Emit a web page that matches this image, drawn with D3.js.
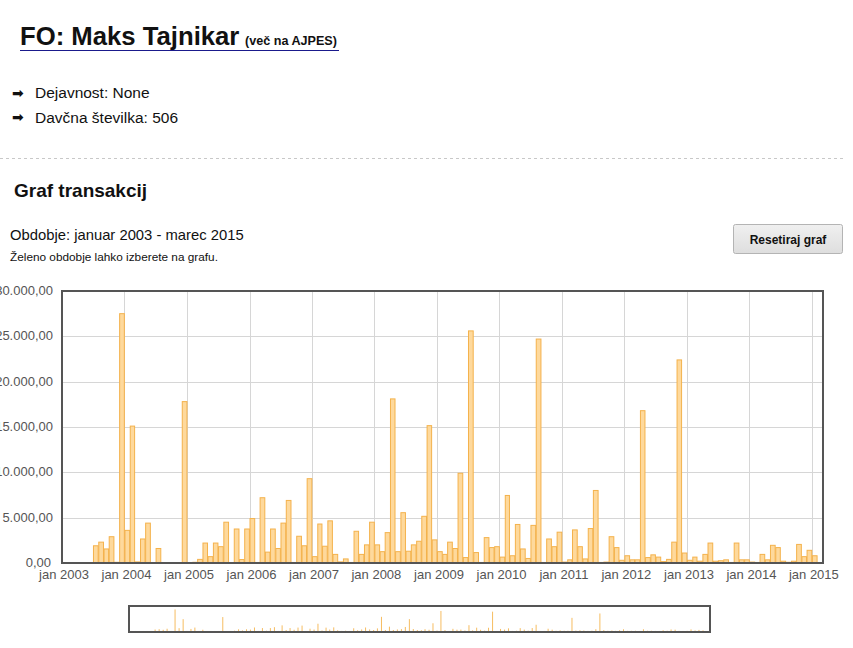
<!DOCTYPE html>
<html>
<head>
<meta charset="utf-8">
<script src="https://cdn.jsdelivr.net/npm/d3@7"></script>
<style>
  html, body { margin: 0; padding: 0; background: #fff; }
  svg { display: block; }
</style>
</head>
<body>
<svg id="chart" width="853" height="648"></svg>
<script>
// ---------- data ----------
const startMonth = "2003-01";
const values = [
  // 2003
  50, 50, 50, 50, 50, 50, 1900, 2300, 1550, 2900, 80, 27500,
  // 2004
  3600, 15100, 120, 2650, 4400, 50, 1600, 50, 50, 50, 50, 17800,
  // 2005
  50, 80, 400, 2200, 700, 2200, 1800, 4500, 50, 3750, 380, 3750,
  // 2006
  4900, 60, 7200, 1200, 3750, 1600, 4400, 6900, 60, 2950, 1900, 9300,
  // 2007
  700, 4300, 1850, 4650, 950, 120, 450, 60, 3500, 950, 2000, 4500,
  // 2008
  2000, 1250, 3350, 18100, 1250, 5550, 1300, 2000, 2400, 5150, 15150, 2550,
  // 2009
  1250, 950, 2300, 1600, 9900, 600, 25600, 1150, 60, 2800, 1700, 1800,
  // 2010
  650, 7450, 800, 4250, 1550, 500, 4150, 24700, 60, 2650, 1800, 3400,
  // 2011
  100, 350, 3650, 1800, 450, 3800, 8000, 60, 100, 2900, 1700, 300,
  // 2012
  800, 350, 350, 16800, 600, 900, 650, 150, 400, 2300, 22400, 1100,
  // 2013
  300, 650, 200, 950, 2200, 200, 250, 350, 60, 2200, 350, 350,
  // 2014
  100, 60, 950, 350, 1950, 1700, 200, 80, 200, 2050, 700, 1400,
  // 2015
  800
];
const yTickValues = [0, 5000, 10000, 15000, 20000, 25000, 30000];
const xTickYears = [2003, 2004, 2005, 2006, 2007, 2008, 2009, 2010, 2011, 2012, 2013, 2014, 2015];
const xTickPrefix = "jan";
const domainStart = "2003-01-01";
const domainEnd = "2015-03-07";

const titleText = "FO: Maks Tajnikar";
const titleLink = "(več na AJPES)";
const infoLines = ["Dejavnost: None", "Davčna številka: 506"];
const sectionTitle = "Graf transakcij";
const periodText = "Obdobje: januar 2003 - marec 2015";
const hintText = "Želeno obdobje lahko izberete na grafu.";
const buttonText = "Resetiraj graf";

// ---------- setup ----------
const FONT = "'Liberation Sans', Arial, Helvetica, sans-serif";
const svg = d3.select("#chart").style("font-family", FONT);
const parseMonth = d3.timeParse("%Y-%m");
const parseDay = d3.timeParse("%Y-%m-%d");
const t0 = parseMonth(startMonth);
const data = values.map((v, i) => ({ date: d3.timeMonth.offset(t0, i), value: v }));

const nf = d3.formatLocale({ decimal: ",", thousands: ".", grouping: [3], currency: ["", ""] }).format(",.2f");

// ---------- header ----------
svg.append("text").attr("x", 20).attr("y", 44.5)
  .attr("font-size", 25.7).attr("font-weight", "bold").attr("fill", "#111")
  .text(titleText);
svg.append("text").attr("x", 245).attr("y", 44.5)
  .attr("font-size", 12.6).attr("font-weight", "bold").attr("fill", "#111")
  .text(titleLink);
svg.append("line").attr("x1", 20).attr("x2", 339).attr("y1", 50.5).attr("y2", 50.5)
  .attr("stroke", "#1a1a8c").attr("stroke-width", 1);

infoLines.forEach((t, i) => {
  const y = 98 + i * 24.5;
  svg.append("text").attr("x", 12).attr("y", y - 0.5)
    .attr("font-family", "'DejaVu Sans', sans-serif")
    .attr("font-size", 14).attr("font-weight", "bold").attr("fill", "#111").text("➡");
  svg.append("text").attr("x", 35).attr("y", y)
    .attr("font-size", 15.5).attr("fill", "#111").text(t);
});

svg.append("line").attr("x1", 0).attr("x2", 845).attr("y1", 158.5).attr("y2", 158.5)
  .attr("stroke", "#c8c8c8").attr("stroke-width", 1).attr("stroke-dasharray", "3,3");

svg.append("text").attr("x", 14).attr("y", 197)
  .attr("font-size", 19).attr("font-weight", "bold").attr("fill", "#111")
  .text(sectionTitle);

svg.append("text").attr("x", 10).attr("y", 239.5)
  .attr("font-size", 14.8).attr("fill", "#111").text(periodText);
svg.append("text").attr("x", 10).attr("y", 261)
  .attr("font-size", 11.8).attr("fill", "#111").text(hintText);

// button
const grad = svg.append("defs").append("linearGradient").attr("id", "btng")
  .attr("x1", 0).attr("x2", 0).attr("y1", 0).attr("y2", 1);
grad.append("stop").attr("offset", "0%").attr("stop-color", "#f0f0f0");
grad.append("stop").attr("offset", "100%").attr("stop-color", "#dedede");
svg.append("rect").attr("x", 733.5).attr("y", 224.5).attr("width", 109).attr("height", 29)
  .attr("rx", 2).attr("fill", "url(#btng)").attr("stroke", "#b4b4b4");
svg.append("text").attr("x", 788).attr("y", 243.5).attr("text-anchor", "middle")
  .attr("font-size", 12).attr("font-weight", "bold").attr("fill", "#111").text(buttonText);

// ---------- main chart ----------
const plot = { left: 62, right: 823, top: 291, bottom: 563 };
const x = d3.scaleTime().domain([parseDay(domainStart), parseDay(domainEnd)]).range([plot.left, plot.right]);
const y = d3.scaleLinear().domain([0, 30000]).range([plot.bottom, plot.top]);

const g = svg.append("g");
// grid
g.selectAll("line.hgrid").data(yTickValues).enter().append("line")
  .attr("x1", plot.left).attr("x2", plot.right)
  .attr("y1", d => Math.round(y(d)) + 0.5).attr("y2", d => Math.round(y(d)) + 0.5)
  .attr("stroke", "#d6d6d6").attr("stroke-width", 1);
const xTickDates = xTickYears.map(yr => new Date(yr, 0, 1));
g.selectAll("line.vgrid").data(xTickDates).enter().append("line")
  .attr("x1", d => Math.round(x(d)) + 0.5).attr("x2", d => Math.round(x(d)) + 0.5)
  .attr("y1", plot.top).attr("y2", plot.bottom)
  .attr("stroke", "#d6d6d6").attr("stroke-width", 1);

// bars
g.selectAll("rect.bar").data(data).enter().append("rect")
  .attr("x", d => x(d.date) + 0.5)
  .attr("y", d => y(d.value))
  .attr("width", d => x(d3.timeMonth.offset(d.date, 1)) - x(d.date) - 0.6)
  .attr("height", d => plot.bottom - y(d.value))
  .attr("fill", "#fed99c").attr("stroke", "#f4b24c").attr("stroke-width", 1);

// frame
g.append("rect").attr("x", plot.left).attr("y", plot.top)
  .attr("width", plot.right - plot.left).attr("height", plot.bottom - plot.top)
  .attr("fill", "none").attr("stroke", "#555").attr("stroke-width", 2);

// y labels
g.selectAll("text.ylab").data(yTickValues).enter().append("text")
  .attr("x", d => d === 0 ? 51 : 53).attr("y", d => y(d) + 4).attr("text-anchor", "end")
  .attr("font-size", 13).attr("fill", "#555").text(d => nf(d));

// x labels
g.selectAll("text.xlab").data(xTickDates).enter().append("text")
  .attr("x", d => x(d) + 2).attr("y", 579).attr("text-anchor", "middle")
  .attr("font-size", 13).attr("fill", "#555")
  .text(d => xTickPrefix + " " + d.getFullYear());

// ---------- overview chart ----------
const ov = { left: 130, right: 710, top: 607, bottom: 632 };
const x2 = d3.scaleTime().domain([parseDay(domainStart), parseDay(domainEnd)]).range([ov.left, ov.right]);
const y2 = d3.scaleLinear().domain([0, 30000]).range([ov.bottom - 1, ov.top + 0.5]);
svg.append("g").selectAll("rect").data(data).enter().append("rect")
  .attr("x", d => x2(d.date) + 1)
  .attr("y", d => y2(d.value))
  .attr("width", 1)
  .attr("height", d => (ov.bottom - 1) - y2(d.value))
  .attr("fill", "#f6bd62");
svg.append("rect").attr("x", ov.left - 1).attr("y", ov.top - 1)
  .attr("width", ov.right - ov.left + 1).attr("height", ov.bottom - ov.top + 1)
  .attr("fill", "none").attr("stroke", "#555").attr("stroke-width", 2);
</script>
</body>
</html>
